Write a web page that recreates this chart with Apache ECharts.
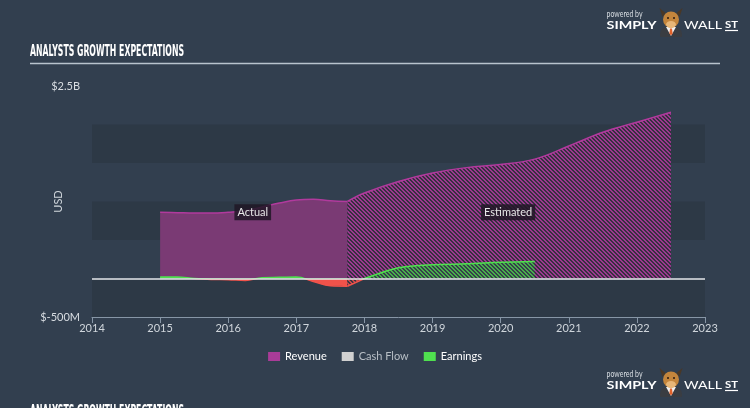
<!DOCTYPE html>
<html>
<head>
<meta charset="utf-8">
<script src="https://cdn.jsdelivr.net/npm/echarts@6/dist/echarts.min.js"></script>
<style>
html,body{margin:0;padding:0;background:#323f4f;}
#chart{width:750px;height:408px;}
</style>
</head>
<body>
<div id="chart"></div>
<script>
// ---- Data (values in billions USD, x in fractional years) ----
const titleText = 'ANALYSTS GROWTH EXPECTATIONS';
const legendNames = ['Revenue', 'Cash Flow', 'Earnings'];
const yTickLabels = { '-0.5': '$-500M', '2.5': '$2.5B' };
const yAxisName = 'USD';
const revenueActual = [
  [2015.0, 0.86], [2015.25, 0.855], [2015.5, 0.85], [2015.75, 0.85],
  [2016.0, 0.86], [2016.25, 0.88], [2016.5, 0.93], [2016.75, 0.98],
  [2017.0, 1.02], [2017.25, 1.03], [2017.5, 1.01], [2017.75, 1.0]
];
const revenueEstimated = [
  [2017.75, 1.0], [2018.0, 1.11], [2018.5, 1.26], [2019.0, 1.37],
  [2019.5, 1.44], [2020.0, 1.48], [2020.5, 1.55], [2021.0, 1.72],
  [2021.5, 1.90], [2022.0, 2.03], [2022.5, 2.16]
];
const earningsActual = [
  [2015.0, 0.02], [2015.25, 0.018], [2015.5, 0.0], [2015.75, -0.012],
  [2016.0, -0.015], [2016.25, -0.025], [2016.5, 0.01], [2016.75, 0.015],
  [2017.0, 0.02], [2017.25, -0.04], [2017.5, -0.095], [2017.75, -0.1]
];
const earningsEstimated = [
  [2017.75, -0.1], [2018.0, 0.0], [2018.5, 0.14], [2019.0, 0.18],
  [2019.5, 0.19], [2020.0, 0.21], [2020.5, 0.22]
];
const cashFlow = [];
const annotations = [
  { text: 'Actual', coord: [2016.36, 0.86] },
  { text: 'Estimated', coord: [2020.11, 0.86] }
];

// ---- Styles ----
const BG = '#323f4f';
const BAND = '#2d3946';
const REV_LINE = '#b13a9d';
const REV_FILL = '#7a3a74';
const GREEN = '#4fe04f';
const RED = '#f0524a';
const FONT = 'Lato, "Open Sans", sans-serif';

function makeHatch(fg, bg) {
  const c = document.createElement('canvas');
  c.width = 4; c.height = 4;
  const ctx = c.getContext('2d');
  ctx.fillStyle = bg; ctx.fillRect(0, 0, 4, 4);
  ctx.fillStyle = fg;
  for (let i = 0; i < 4; i++) {
    ctx.fillRect(i, i, 1, 1);
    ctx.fillRect((i + 1) % 4, i, 1, 1);
  }
  return { image: c, repeat: 'repeat' };
}

const measureCtx = document.createElement('canvas').getContext('2d');
function fitText(text, font, x, y, width, fill, extra) {
  measureCtx.font = font;
  const w = measureCtx.measureText(text).width;
  return Object.assign({
    type: 'text', x: x, y: y, scaleX: width / w,
    style: { text: text, font: font, fill: fill, verticalAlign: 'top', align: 'left' }
  }, extra || {});
}

function logo(dy) {
  const ch = [];
  ch.push(fitText('powered by', '10px ' + FONT, 606.5, 9, 36, '#d8dde2'));
  ch.push(fitText('SIMPLY', 'bold 12px ' + FONT, 606.5, 19.5, 50, '#ffffff'));
  ch.push(fitText('WALL', '12px ' + FONT, 684, 19.5, 38, '#ffffff'));
  ch.push(fitText('ST', 'bold 9px ' + FONT, 725, 20.5, 13, '#ffffff'));
  ch.push({ type: 'line', shape: { x1: 725, y1: 30.5, x2: 738, y2: 30.5 }, style: { stroke: '#ffffff', lineWidth: 1.2 } });
  // bull mascot
  ch.push({ type: 'rect', shape: { x: 660, y: 27, width: 22, height: 10, r: [7, 7, 1, 1] }, style: { fill: '#3a3d42' } });
  ch.push({ type: 'polygon', shape: { points: [[666, 27], [676, 27], [671, 36]] }, style: { fill: '#f2f2f2' } });
  ch.push({ type: 'polygon', shape: { points: [[670, 28.5], [672, 28.5], [672.6, 33.5], [671, 35.5], [669.4, 33.5]] }, style: { fill: '#e2622a' } });
  ch.push({ type: 'polygon', shape: { points: [[662.5, 17], [659.5, 8], [665.5, 13]] }, style: { fill: '#4a3826' } });
  ch.push({ type: 'polygon', shape: { points: [[679.5, 17], [682.5, 8], [676.5, 13]] }, style: { fill: '#4a3826' } });
  ch.push({ type: 'circle', shape: { cx: 671, cy: 19.5, r: 8 }, style: { fill: '#c4853c' } });
  ch.push({ type: 'ellipse', shape: { cx: 671, cy: 24.5, rx: 5, ry: 3.5 }, style: { fill: '#e7b678' } });
  ch.push({ type: 'circle', shape: { cx: 668, cy: 18, r: 1 }, style: { fill: '#2a1a10' } });
  ch.push({ type: 'circle', shape: { cx: 674, cy: 18, r: 1 }, style: { fill: '#2a1a10' } });
  return { type: 'group', x: 0, y: dy, children: ch };
}

const chart = echarts.init(document.getElementById('chart'), null, { renderer: 'canvas' });

const estNeg = earningsEstimated.filter(p => p[1] <= 0);
const estPos = earningsEstimated.filter(p => p[1] >= 0);

const option = {
  backgroundColor: BG,
  animation: false,
  textStyle: { fontFamily: FONT },
  grid: { left: 92, right: 45, top: 86, bottom: 91, containLabel: false },
  xAxis: {
    type: 'value', min: 2014, max: 2023, interval: 1,
    axisLine: { show: true, onZero: false, lineStyle: { color: '#8796a6', width: 1 } },
    axisTick: { show: true, length: 6, lineStyle: { color: '#8796a6' } },
    axisLabel: { color: '#d0d6dc', fontSize: 11, margin: 6, formatter: v => String(v) },
    splitLine: { show: false }
  },
  yAxis: {
    type: 'value', min: -0.5, max: 2.5, interval: 0.5,
    name: yAxisName, nameLocation: 'middle', nameGap: 28, nameRotate: 90, nameMoveOverlap: false,
    nameTextStyle: { color: '#d0d6dc', fontSize: 11 },
    axisLine: { show: false }, axisTick: { show: false },
    axisLabel: {
      color: '#d8dde2', fontSize: 11, margin: 12,
      formatter: v => yTickLabels[String(v)] || ''
    },
    splitLine: { show: false },
    splitArea: { show: true, areaStyle: { color: [BAND, 'rgba(0,0,0,0)'] } }
  },
  legend: {
    bottom: 41, left: 'center', icon: 'rect', itemWidth: 12, itemHeight: 9, itemGap: 15,
    textStyle: { color: '#ffffff', fontSize: 11 },
    data: [
      { name: legendNames[0], itemStyle: { color: '#a93c98' }, textStyle: { color: '#ffffff' } },
      { name: legendNames[1], itemStyle: { color: '#d0d0d0' }, textStyle: { color: '#b8bfc6' } },
      { name: legendNames[2], itemStyle: { color: GREEN }, textStyle: { color: '#ffffff' } }
    ],
    selectedMode: false
  },
  visualMap: [{
    type: 'piecewise', show: false, dimension: 1, seriesIndex: [2, 3, 4],
    pieces: [{ gt: -10, lte: 0, color: RED }, { gt: 0, lte: 10, color: GREEN }]
  }],
  series: [
    {
      name: legendNames[0], type: 'line', data: revenueActual, smooth: 0.4, showSymbol: false,
      lineStyle: { color: REV_LINE, width: 1.5 }, itemStyle: { color: REV_LINE },
      areaStyle: { color: REV_FILL, opacity: 1 },
      markPoint: {
        symbol: 'circle', symbolSize: 0,
        label: {
          show: true, position: 'inside', formatter: p => p.name,
          color: '#e8e8e8', fontSize: 11, backgroundColor: 'rgba(32,24,38,0.85)', padding: [3, 3, 2, 3]
        },
        data: annotations.map(a => ({ name: a.text, coord: a.coord }))
      },
      z: 2
    },
    {
      name: legendNames[0], type: 'line', data: revenueEstimated, smooth: 0.4, showSymbol: false,
      lineStyle: { color: REV_LINE, width: 1.5 }, itemStyle: { color: REV_LINE },
      areaStyle: { color: makeHatch('#9c3890', '#36303f'), opacity: 1 },
      z: 2
    },
    {
      name: legendNames[2], type: 'line', data: earningsActual, smooth: 0.4, showSymbol: false,
      lineStyle: { width: 1.5 }, areaStyle: { opacity: 1 }, z: 3
    },
    {
      name: legendNames[2], type: 'line', data: estNeg, smooth: 0.3, showSymbol: false,
      lineStyle: { width: 1.5 }, areaStyle: { color: makeHatch('#c8484a', '#3a3540'), opacity: 1 }, z: 3
    },
    {
      name: legendNames[2], type: 'line', data: estPos, smooth: 0.3, showSymbol: false,
      lineStyle: { width: 1.5 }, areaStyle: { color: makeHatch('#48b04c', '#35404a'), opacity: 1 }, z: 3,
      markLine: {
        silent: true, symbol: 'none', label: { show: false },
        lineStyle: { color: '#e6e9ec', width: 1.5, type: 'solid' },
        data: [{ yAxis: 0 }]
      }
    },
    {
      name: legendNames[1], type: 'line', data: cashFlow, showSymbol: false,
      itemStyle: { color: '#d0d0d0' }, lineStyle: { color: '#d0d0d0' }
    }
  ],
  graphic: [
    fitText(titleText, 'bold 16px "Liberation Sans Narrow", "DejaVu Sans Condensed", sans-serif', 30, 44, 154, '#ffffff'),
    { type: 'line', shape: { x1: 30, y1: 63.5, x2: 720, y2: 63.5 }, style: { stroke: '#b9c3cd', lineWidth: 1.5 } },
    logo(0),
    logo(360),
    fitText(titleText, 'bold 16px "Liberation Sans Narrow", "DejaVu Sans Condensed", sans-serif', 30, 404, 154, '#ffffff')
  ]
};
chart.setOption(option);
</script>
</body>
</html>
